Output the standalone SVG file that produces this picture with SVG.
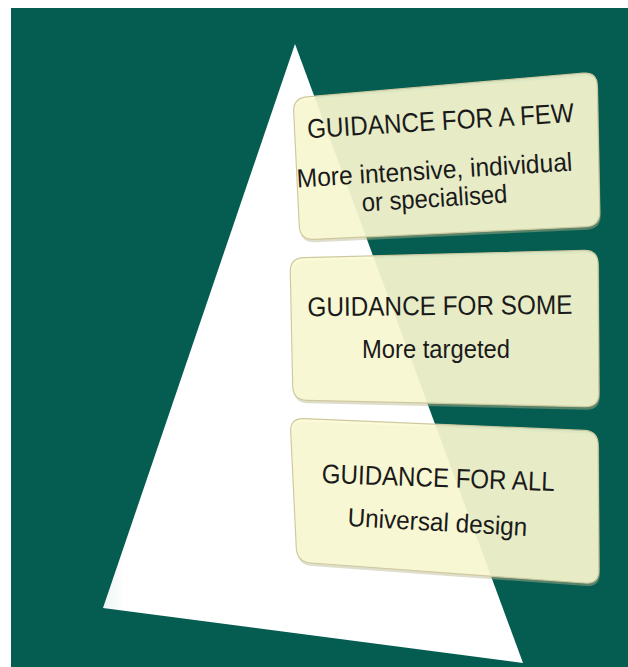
<svg xmlns="http://www.w3.org/2000/svg" width="628" height="667" viewBox="0 0 628 667">
  <style>
    .box { fill: #FCFAD4; fill-opacity: 0.88; stroke: #CFC9A0; stroke-width: 1.2; }
    .shadow { fill: #B9B48C; fill-opacity: 0.45; }
    .title { font-family: "Liberation Sans", Arial, sans-serif; font-size: 27px; fill: #1a1a1a; text-anchor: middle; }
    .sub { font-family: "Liberation Sans", Arial, sans-serif; font-size: 26px; fill: #1a1a1a; text-anchor: middle; }
  </style>
  <defs>
    <linearGradient id="triShade" x1="0" y1="0" x2="1" y2="0">
      <stop offset="0" stop-color="#EEF4F3"/>
      <stop offset="0.05" stop-color="#FFFFFF"/>
      <stop offset="1" stop-color="#FFFFFF"/>
    </linearGradient>
  </defs>

  <!-- background panel -->
  <rect x="0" y="0" width="628" height="667" fill="#FFFFFF"/>
  <rect x="11" y="8" width="617" height="659" fill="#055D51"/>

  <!-- pyramid -->
  <g id="pyramid">
    <polygon points="295,44 523,663 103,608" fill="url(#triShade)"/>
  </g>

  <!-- top tier -->
  <g id="tier-few">
    <path class="shadow" transform="translate(1,3)" d="M306.9,96.8 L583.1,73.2 Q597,72 597.3,86 L599.7,212 Q600,226 586,226.7 L314,239.3 Q300,240 299.3,226 L293.7,112 Q293,98 306.9,96.8 Z"/>
    <path class="box" d="M306.9,96.8 L583.1,73.2 Q597,72 597.3,86 L599.7,212 Q600,226 586,226.7 L314,239.3 Q300,240 299.3,226 L293.7,112 Q293,98 306.9,96.8 Z"/>
    <text class="title" x="441" y="130" transform="rotate(-3.5 441 130)" textLength="267" lengthAdjust="spacingAndGlyphs">GUIDANCE FOR A FEW</text>
    <text class="sub" x="435" y="179" transform="rotate(-3.5 435 179)" textLength="276" lengthAdjust="spacingAndGlyphs">More intensive, individual</text>
    <text class="sub" x="435" y="207" transform="rotate(-3.5 435 207)" textLength="146" lengthAdjust="spacingAndGlyphs">or specialised</text>
  </g>

  <!-- middle tier -->
  <g id="tier-some">
    <path class="shadow" transform="translate(1,3)" d="M304,257.6 L584,250.4 Q598,250 598.1,264 L598.9,393 Q599,407 585,406.7 L307,400.3 Q293,400 292.7,386 L290.3,272 Q290,258 304,257.6 Z"/>
    <path class="box" d="M304,257.6 L584,250.4 Q598,250 598.1,264 L598.9,393 Q599,407 585,406.7 L307,400.3 Q293,400 292.7,386 L290.3,272 Q290,258 304,257.6 Z"/>
    <text class="title" x="440" y="315" transform="rotate(-0.5 440 315)" textLength="265" lengthAdjust="spacingAndGlyphs">GUIDANCE FOR SOME</text>
    <text class="sub" x="436" y="358" textLength="148" lengthAdjust="spacingAndGlyphs">More targeted</text>
  </g>

  <!-- bottom tier -->
  <g id="tier-all">
    <path class="shadow" transform="translate(1,3)" d="M304,418.6 L584,430.4 Q598,431 598.1,445 L598.9,570 Q599,584 585,583 L311,563 Q297,562 296.3,548 L290.7,432 Q290,418 304,418.6 Z"/>
    <path class="box" d="M304,418.6 L584,430.4 Q598,431 598.1,445 L598.9,570 Q599,584 585,583 L311,563 Q297,562 296.3,548 L290.7,432 Q290,418 304,418.6 Z"/>
    <text class="title" x="438" y="487" transform="rotate(2 438 487)" textLength="233" lengthAdjust="spacingAndGlyphs">GUIDANCE FOR ALL</text>
    <text class="sub" x="437" y="531" transform="rotate(3.2 437 531)" textLength="180" lengthAdjust="spacingAndGlyphs">Universal design</text>
  </g>

  <!-- no connectors in this figure -->
  <g id="connectors"/>
</svg>
